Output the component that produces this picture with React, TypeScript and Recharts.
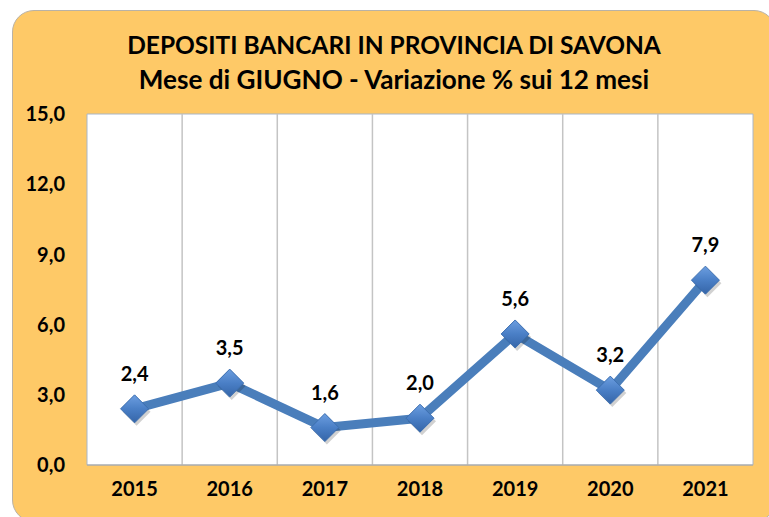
import {
  CartesianGrid,
  LabelList,
  Line,
  LineChart,
  ReferenceArea,
  ReferenceLine,
  XAxis,
  YAxis,
} from "recharts";

const years = ["2015", "2016", "2017", "2018", "2019", "2020", "2021"];
const variazione = [2.4, 3.5, 1.6, 2.0, 5.6, 3.2, 7.9];
const yTicks = [0, 3, 6, 9, 12, 15];

const data = years.map((year, i) => ({ i, year, v: variazione[i] }));
const dividers = years.slice(1).map((_, k) => k + 0.5);

const FONT = "Lato, 'Open Sans', sans-serif";
const fmt = (v: number) => Number(v).toFixed(1).replace(".", ",");

function Diamond(props: any) {
  const { cx, cy, index } = props;
  if (cx == null || cy == null) return <g key={`d${index}`} />;
  const r = 14;
  const id = `dg${index}`;
  return (
    <g key={`d${index}`}>
      <defs>
        <linearGradient id={id} x1="0" y1="0" x2="0" y2="1">
          <stop offset="0%" stopColor="#6C9EE0" />
          <stop offset="50%" stopColor="#4A7FC6" />
          <stop offset="100%" stopColor="#3565A8" />
        </linearGradient>
      </defs>
      <polygon
        points={`${cx + 2},${cy - r + 3} ${cx + r + 2},${cy + 3} ${cx + 2},${cy + r + 3} ${cx - r + 2},${cy + 3}`}
        fill="#000"
        opacity={0.18}
      />
      <polygon
        points={`${cx},${cy - r} ${cx + r},${cy} ${cx},${cy + r} ${cx - r},${cy}`}
        fill={`url(#${id})`}
        stroke="#3B6EB0"
        strokeWidth={1}
      />
    </g>
  );
}

export default function App() {
  return (
    <div style={{ position: "absolute", left: 0, top: 0, width: 769, height: 517, overflow: "hidden", background: "#fff" }}>
      <div
        style={{
          position: "absolute",
          left: 12,
          top: 10,
          width: 764,
          height: 512,
          borderRadius: 22,
          background: "#FEC967",
          border: "1px solid #B9B2A6",
          boxSizing: "border-box",
        }}
      />
      <div
        style={{
          position: "absolute",
          left: 12,
          width: 764,
          top: 28,
          textAlign: "center",
          fontFamily: FONT,
          fontWeight: 700,
          lineHeight: "34px",
          color: "#000",
        }}
      >
        <div style={{ fontSize: 24.5 }}>DEPOSITI BANCARI IN PROVINCIA DI SAVONA</div>
        <div style={{ fontSize: 26.1 }}>Mese di GIUGNO - Variazione % sui 12 mesi</div>
      </div>
      <div style={{ position: "absolute", left: 0, top: 0 }}>
        <LineChart width={769} height={517} data={data} margin={{ top: 114, right: 16, bottom: 0, left: 0 }}>
          <CartesianGrid fill="#fff" horizontal={false} vertical={false} />
          {dividers.map((x) => (
            <ReferenceLine key={x} x={x} stroke="#C4C4C4" strokeWidth={1.5} />
          ))}
          <ReferenceArea x1={-0.5} x2={6.5} y1={0} y2={15} fill="none" stroke="#A9B6C8" strokeWidth={1} />
          <XAxis
            dataKey="i"
            type="number"
            domain={[-0.5, 6.5]}
            ticks={data.map((d) => d.i)}
            tickFormatter={(i: number) => years[i] ?? ""}
            axisLine={{ stroke: "#A6A6A6" }}
            tickLine={false}
            tickSize={0}
            tickMargin={17}
            height={52}
            tick={{ fontSize: 20, fontWeight: 700, fill: "#000", fontFamily: FONT }}
          />
          <YAxis
            domain={[0, 15]}
            ticks={yTicks}
            tickFormatter={fmt}
            axisLine={false}
            tickLine={false}
            tickSize={0}
            tickMargin={22}
            width={87}
            tick={{ fontSize: 20, fontWeight: 700, fill: "#000", fontFamily: FONT }}
          />
          <Line
            type="linear"
            dataKey="v"
            stroke="#4A7EBB"
            strokeWidth={9}
            strokeLinejoin="round"
            dot={(p: any) => <Diamond {...p} />}
            activeDot={false}
            isAnimationActive={false}
          >
            <LabelList
              dataKey="v"
              position="top"
              offset={28}
              formatter={(v: any) => fmt(v)}
              fill="#000"
              fontSize={20}
              fontWeight={700}
              fontFamily={FONT}
            />
          </Line>
        </LineChart>
      </div>
    </div>
  );
}
